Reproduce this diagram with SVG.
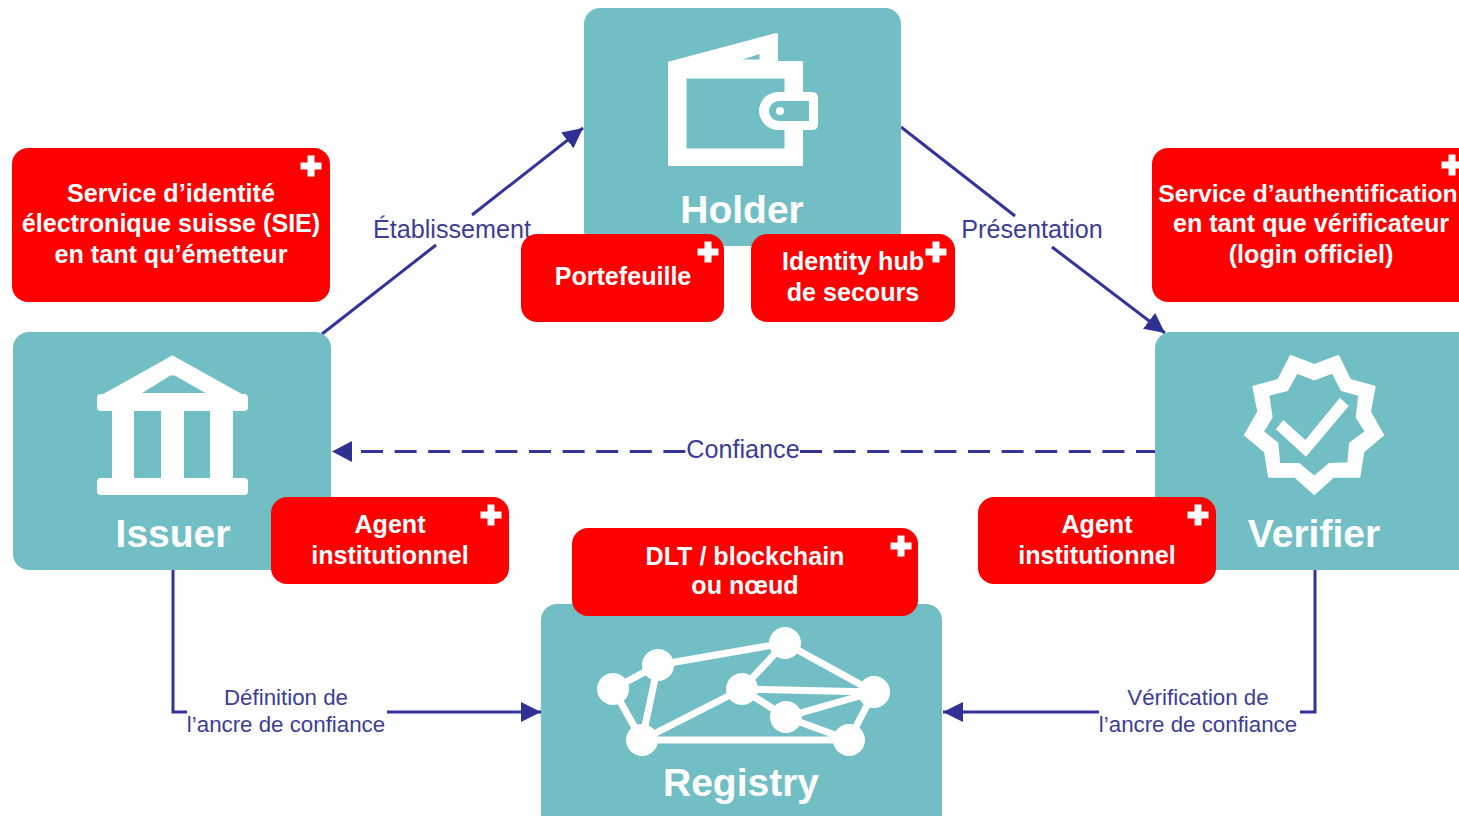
<svg xmlns="http://www.w3.org/2000/svg" width="1459" height="816" viewBox="0 0 1459 816">
<style>
text{font-family:"Liberation Sans",Arial,sans-serif;text-anchor:middle}
.t{fill:#72bec5}
.r{fill:#ff0000}
.w{fill:#fff}
.n{fill:#fff;font-weight:700;font-size:39px}
.b{fill:#fff;font-weight:700;font-size:25.1px}
.c{fill:none;stroke:#333399;stroke-width:3}
.l{fill:#3b3d98;font-size:25.2px}
.s{fill:#3b3d98;font-size:22.3px}
.ic{fill:none;stroke:#fff}
</style>
<defs>
<path id="plus" class="w" d="M-3.500-10.500h7v7h7v7h-7v7h-7v-7h-7v-7h7z"/>
<marker id="arr" markerUnits="userSpaceOnUse" markerWidth="22" markerHeight="22" refX="20" refY="10" orient="auto"><path d="M0 0L20 10L0 20z" fill="#2e3192"/></marker>
</defs>
<rect width="1459" height="816" fill="#fff"/>
<g id="connectors">
<path class="c" d="M322 334L436 245"/>
<path class="c" d="M472 215L583 128" marker-end="url(#arr)"/>
<path class="c" d="M901 127L1015 216"/>
<path class="c" d="M1052 247L1165 333" marker-end="url(#arr)"/>
<path class="c" stroke-dasharray="22 11.6" d="M361 451.500H686"/>
<path class="c" stroke-dasharray="22 11.6" d="M800 451.500H1156"/>
<path d="M352 441L332 451.500L352 462z" fill="#2e3192"/>
<path class="c" d="M173 570V712H187"/>
<path class="c" d="M387 712H541" marker-end="url(#arr)"/>
<path class="c" d="M1315 570V712H1300"/>
<path class="c" d="M1099 712H943" marker-end="url(#arr)"/>
<text class="l" x="452" y="238">Établissement</text>
<text class="l" x="1032" y="238">Présentation</text>
<text class="l" x="743" y="458">Confiance</text>
<text class="s" x="286" y="705">Définition de</text>
<text class="s" x="286" y="732">l’ancre de confiance</text>
<text class="s" x="1198" y="705">Vérification de</text>
<text class="s" x="1198" y="732">l’ancre de confiance</text>
</g>
<g id="holder">
<rect class="t" x="584" y="8" width="317" height="238" rx="16"/>
<path class="w" fill-rule="evenodd" stroke="#fff" stroke-width="3" stroke-linejoin="round" d="M669.500 63L776.500 34.500V62.500H801.500V164.500H669.500zM685 77V150H786V77zM732 61H761V52z"/>
<path class="w" d="M778 92H812Q818 92 818 98V124Q818 130 812 130H778C767 130 759 120 759 111C759 101 767 92 778 92z"/>
<path class="t" d="M780 101C773 101 769 106 769 111C769 116 773 121 780 121H809V101z"/>
<circle class="w" cx="780" cy="111" r="4"/>
<text class="n" x="742" y="223">Holder</text>
</g>
<g id="issuer">
<rect class="t" x="13" y="332" width="318" height="238" rx="16"/>
<path class="w" fill-rule="evenodd" stroke="#fff" stroke-width="3" stroke-linejoin="round" d="M172.500 357L246 398V400H99V398zM137 394.500H211L175 374H170z"/>
<rect class="w" x="97" y="394" width="151" height="17" rx="4"/>
<path class="w" d="M112 405h22v75h-22zM161 405h23v75h-23zM210 405h23v75h-23z"/>
<rect class="w" x="97" y="478" width="151" height="17" rx="4"/>
<text class="n" x="173" y="547">Issuer</text>
</g>
<g id="verifier">
<rect class="t" x="1155" y="332" width="320" height="238" rx="16"/>
<path class="w" fill-rule="evenodd" stroke="#fff" stroke-width="6" stroke-linejoin="round" transform="translate(1200 330) scale(.3333)" d="M272 78L343 105L415 78L450 150L524 170L510 245L549 315L490 365L478 440L400 440L343 492L285 440L207 440L195 365L135 315L175 245L160 170L235 150zM290 128L262 180L205 195L215 262L188 305L232 340L238 402L297 402L343 440L388 402L445 400L450 340L498 305L470 262L478 195L425 180L398 128L343 148z"/>
<path class="w" transform="translate(1200 330) scale(.3333)" d="M228 298L250 270L316 330L420 203L446 228L318 380z"/>
<text class="n" x="1314" y="547">Verifier</text>
</g>
<g id="registry">
<rect class="t" x="541" y="604" width="401" height="230" rx="16"/>
<path class="ic" stroke-width="7" d="M613 689L658 665L642 740L613 689M658 665L785 643L742 689L642 740H849L874 692L785 643M742 689L874 692L786 717L742 689M786 717L849 740"/>
<g class="w"><circle cx="613" cy="689" r="16"/><circle cx="658" cy="665" r="16"/><circle cx="785" cy="643" r="16"/><circle cx="742" cy="689" r="16"/><circle cx="874" cy="692" r="16"/><circle cx="786" cy="717" r="16"/><circle cx="642" cy="740" r="16"/><circle cx="849" cy="740" r="16"/></g>
<text class="n" x="741" y="796">Registry</text>
</g>
<g id="sie">
<rect class="r" x="12" y="148" width="318" height="154" rx="16"/>
<use href="#plus" x="311" y="166"/>
<text class="b" x="171" y="202">Service d’identité</text>
<text class="b" x="171" y="232">électronique suisse (SIE)</text>
<text class="b" x="171" y="263">en tant qu’émetteur</text>
</g>
<g id="auth">
<rect class="r" x="1152" y="148" width="340" height="154" rx="16"/>
<use href="#plus" x="1452" y="165"/>
<text class="b" x="1308" y="202" style="font-size:24.600px">Service d’authentification</text>
<text class="b" x="1311" y="232">en tant que vérificateur</text>
<text class="b" x="1311" y="263">(login officiel)</text>
</g>
<g id="portefeuille">
<rect class="r" x="521" y="234" width="203" height="88" rx="16"/>
<use href="#plus" x="708" y="252"/>
<text class="b" x="623" y="285">Portefeuille</text>
</g>
<g id="identity-hub">
<rect class="r" x="751" y="234" width="204" height="88" rx="16"/>
<use href="#plus" x="936" y="252"/>
<text class="b" x="853" y="270">Identity hub</text>
<text class="b" x="853" y="301">de secours</text>
</g>
<g id="agent-issuer">
<rect class="r" x="271" y="497" width="238" height="87" rx="16"/>
<use href="#plus" x="491" y="515"/>
<text class="b" x="390" y="533">Agent</text>
<text class="b" x="390" y="564">institutionnel</text>
</g>
<g id="agent-verifier">
<rect class="r" x="978" y="497" width="238" height="87" rx="16"/>
<use href="#plus" x="1198" y="515"/>
<text class="b" x="1097" y="533">Agent</text>
<text class="b" x="1097" y="564">institutionnel</text>
</g>
<g id="dlt">
<rect class="r" x="572" y="528" width="346" height="88" rx="16"/>
<use href="#plus" x="901" y="546"/>
<text class="b" x="745" y="565">DLT / blockchain</text>
<text class="b" x="745" y="594">ou nœud</text>
</g>
</svg>
